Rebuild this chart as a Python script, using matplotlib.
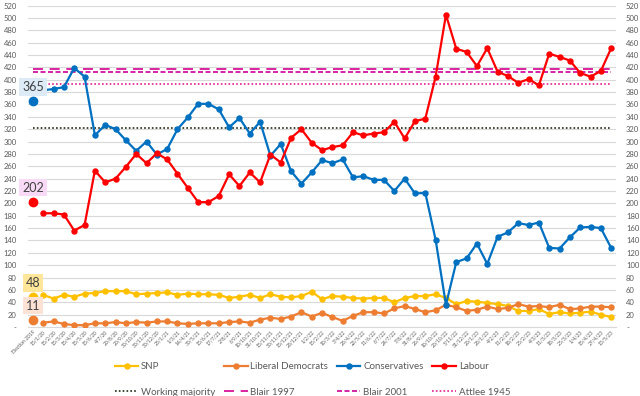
import matplotlib
matplotlib.use("Agg")
import matplotlib.pyplot as plt
import numpy as np

plt.rcParams["font.family"] = ["Lato", "DejaVu Sans"]

# ── data ──────────────────────────────────────────────────────────────────────
dates = [
    "Election 2019",
    "15/1/20", "15/2/20", "15/3/20", "15/4/20", "15/5/20", "15/6/20",
    "4/7/20", "20/8/20", "20/9/20", "30/10/20", "30/11/20", "30/12/20",
    "23/1/21", "1/3/21", "14/4/21", "30/5/21", "15/6/21", "17/7/21",
    "2/8/21", "6/9/21", "10/10/21", "31/10/21", "15/11/21", "30/11/21",
    "15/12/21", "28/12/21", "1/2/22", "15/2/22", "10/3/22", "3/4/22",
    "28/4/22", "22/5/22", "11/6/22", "6/7/22", "24/7/22", "7/8/22",
    "31/8/22", "26/9/22", "10/10/22", "20/10/22", "5/11/22", "31/12/22",
    "20/1/23", "28/1/23", "4/2/23", "11/2/23", "18/2/23", "25/2/23",
    "4/3/23", "11/3/23", "18/3/23", "25/3/23", "1/4/23", "15/4/23",
    "27/4/23", "13/5/23",
]

snp = [48, 52, 46, 52, 49, 54, 55, 58, 58, 58, 53, 54, 55, 56, 52, 54, 53, 53,
       52, 47, 49, 52, 47, 53, 49, 48, 50, 57, 45, 50, 49, 47, 46, 47, 47, 40,
       47, 50, 50, 53, 47, 37, 42, 41, 39, 37, 34, 26, 26, 29, 21, 24, 22, 23,
       25, 20, 16]
libdem = [11, 7, 9, 5, 3, 3, 6, 6, 8, 6, 8, 7, 9, 9, 6, 5, 6, 6, 6, 8, 9, 7,
          12, 15, 13, 17, 24, 17, 23, 16, 10, 18, 24, 24, 22, 30, 34, 29, 24,
          27, 36, 32, 26, 28, 33, 29, 31, 37, 33, 34, 32, 36, 29, 30, 33, 33, 32]
con = [365, 383, 385, 388, 419, 405, 310, 327, 320, 302, 285, 300, 279, 288,
       320, 339, 361, 361, 352, 323, 338, 313, 332, 277, 296, 252, 232, 250,
       270, 265, 271, 242, 244, 238, 238, 220, 240, 216, 217, 141, 36, 105,
       111, 135, 102, 146, 153, 168, 165, 169, 128, 127, 145, 161, 162, 160, 128]
lab = [202, 184, 184, 182, 156, 165, 253, 234, 240, 259, 280, 265, 281, 271,
       248, 225, 202, 202, 212, 247, 228, 250, 234, 279, 266, 306, 320, 298,
       286, 291, 294, 315, 310, 313, 315, 332, 305, 333, 337, 405, 505, 450,
       445, 422, 451, 413, 406, 395, 401, 391, 442, 437, 431, 411, 405, 414, 451]

working_majority = 322
blair_1997 = 418
blair_2001 = 413
attlee_1945 = 393

# ── styles ────────────────────────────────────────────────────────────────────
series = [
    ("SNP", snp, "#FFC000", "#FFE699"),
    ("Liberal Democrats", libdem, "#ED7D31", "#FBE2D5"),
    ("Conservatives", con, "#0070C0", "#DDEBF7"),
    ("Labour", lab, "#FF0000", "#F9DAF6"),
]
refs = [
    ("Working majority", working_majority, "#1E2A14", (0, (1, 1.3))),
    ("Blair 1997", blair_1997, "#D4008F", (0, (6, 4))),
    ("Blair 2001", blair_2001, "#CC0099", (0, (3, 1.5))),
    ("Attlee 1945", attlee_1945, "#E0208C", (0, (1, 1.3))),
]

x = np.arange(len(dates))

fig = plt.figure(figsize=(6.4, 3.96), dpi=100)
ax = fig.add_axes([0.0434, 0.1742, 0.9196, 0.8118])

handles = {}
for name, vals, col, _ in series:
    h, = ax.plot(x[1:], vals[1:], color=col, lw=1.6, marker="o", ms=3.6,
                 zorder=3)
    ax.plot(x[:1], vals[:1], color=col, marker="o", ms=6, ls="none", zorder=3)
    handles[name] = h

for name, val, col, ls in refs:
    h, = ax.plot(x, [val] * len(x), color=col, lw=1.2, ls=ls, zorder=2)
    handles[name] = h

# election labels
for name, vals, col, bg in series:
    ax.annotate(str(vals[0]), (x[0], vals[0]), xytext=(0, 10.5),
                textcoords="offset points", ha="center", va="center",
                fontsize=9, color="#404040", zorder=5,
                bbox=dict(boxstyle="square,pad=0.22", fc=bg, ec="none"))

yt = np.arange(0, 521, 20)
ylab = ["-" if v == 0 else str(v) for v in yt]

ax.set_xlim(-0.5, len(dates) - 0.5)
ax.set_ylim(0, 520)
ax.set_yticks(yt)
ax.set_yticklabels(ylab)
ax.set_xticks(x)
ax.set_xticklabels(dates, rotation=45, ha="right", rotation_mode="anchor",
                   fontsize=3.6, color="#595959")
ax.tick_params(axis="y", length=0, labelsize=5.5, labelcolor="#595959", pad=8)
ax.tick_params(axis="x", length=0, pad=2)
ax.grid(axis="y", color="#D9D9D9", lw=0.8)
ax.set_axisbelow(True)
for s in ("left", "right", "top"):
    ax.spines[s].set_visible(False)
ax.spines["bottom"].set_color("#D9D9D9")

ax2 = ax.twinx()
ax2.set_ylim(0, 520)
ax2.set_yticks(yt)
ax2.set_yticklabels(ylab)
ax2.tick_params(axis="y", length=0, labelsize=5.5, labelcolor="#595959", pad=7)
for s in ax2.spines.values():
    s.set_visible(False)

order = ["SNP", "Working majority", "Liberal Democrats", "Blair 1997",
         "Conservatives", "Blair 2001", "Labour", "Attlee 1945"]
fig.legend([handles[n] for n in order], order, ncol=4,
           loc="upper left", bbox_to_anchor=(0.172, 0.098),
           frameon=False, fontsize=7, handlelength=2.4, handletextpad=0.3,
           columnspacing=0.9, labelspacing=1.7, borderpad=0,
           labelcolor="#595959")

fig.savefig("out.png", dpi=100)
